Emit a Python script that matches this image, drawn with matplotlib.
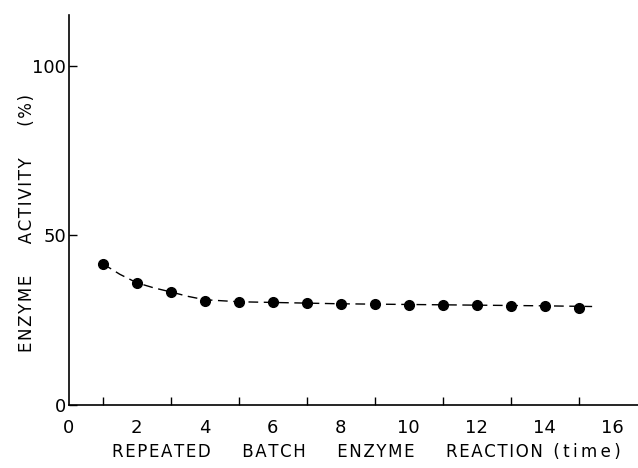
import matplotlib
matplotlib.use("Agg")
import matplotlib.pyplot as plt

# repeated batch number vs. remaining activity (%)
batch = [1, 2, 3, 4, 5, 6, 7, 8, 9, 10, 11, 12, 13, 14, 15]
activity = [41.6, 36.0, 33.3, 30.7, 30.4, 30.2, 30.0, 29.7, 29.6, 29.5, 29.5, 29.5, 29.2, 29.2, 28.7]
# dashed fitted curve
curve_x = [1, 1.5, 2, 2.5, 3, 3.5, 4, 5, 6, 7, 8, 10, 12, 14, 15.4]
curve_y = [41.6, 38.5, 36.0, 34.5, 33.3, 32.0, 31.0, 30.4, 30.2, 30.0, 29.8, 29.6, 29.4, 29.2, 29.0]

xticks_major = [0, 2, 4, 6, 8, 10, 12, 14, 16]
xticks_minor = list(range(1, 17))
yticks = [0, 50, 100]


def spaced(words, gap, sep="\u200a"):
    # letter-spaced words, like the stencil lettering of the original
    return gap.join(sep.join(w) for w in words)


fig = plt.figure(figsize=(6.38, 4.68), dpi=100)
ax = fig.add_axes([0.108, 0.135, 0.892, 0.833])

ax.plot(curve_x, curve_y, color="black", linestyle=(0, (7, 4)), linewidth=1.0)
ax.plot(batch, activity, "o", color="black", markersize=7)

ax.set_xlim(0, 16.75)
ax.set_ylim(0, 115)
for s in ["top", "right"]:
    ax.spines[s].set_visible(False)
ax.spines["left"].set_linewidth(1.2)
ax.spines["bottom"].set_linewidth(1.2)

ax.set_xticks(xticks_major)
ax.set_xticklabels([str(v) for v in xticks_major])
ax.tick_params(axis="x", which="major", length=0, pad=10, labelsize=13)
ax.set_xticks(xticks_minor, minor=True)
ax.tick_params(axis="x", which="minor", direction="in", length=6, width=1)
ax.set_yticks(yticks)
ax.tick_params(axis="y", direction="in", length=6, width=1, pad=2, labelsize=13)

fig.text(0.042, 0.523, spaced(["ENZYME", "ACTIVITY", "(%)"], "      "),
         rotation=90, ha="center", va="center", fontsize=12)
fig.text(0.574, 0.015, spaced(["REPEATED", "BATCH", "ENZYME", "REACTION"], "      ")
         + "  " + spaced(["(time)"], "", "\u2009"),
         ha="center", va="bottom", fontsize=12)

plt.savefig("out.png", dpi=100)
